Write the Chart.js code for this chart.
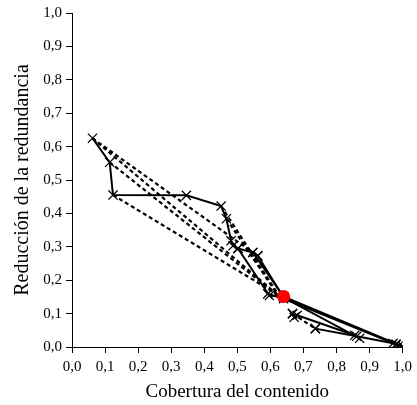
<!DOCTYPE html>
<html>
<head>
<meta charset="utf-8">
<script src="https://cdn.jsdelivr.net/npm/chart.js@4.4.1/dist/chart.umd.min.js"></script>
<style>
  html, body { margin: 0; padding: 0; background: #fff; }
  #wrap { width: 417px; height: 405px; }
</style>
</head>
<body>
<div id="wrap"><canvas id="c" width="417" height="405"></canvas></div>
<script>
// ---- data (x = Cobertura del contenido, y = Reducción de la redundancia) ----
const xTickValues = [0, 0.1, 0.2, 0.3, 0.4, 0.5, 0.6, 0.7, 0.8, 0.9, 1.0];
const yTickValues = [0, 0.1, 0.2, 0.3, 0.4, 0.5, 0.6, 0.7, 0.8, 0.9, 1.0];

const referencePoint = [[0.64, 0.151]];

const mainPath = [[0.062, 0.625], [0.114, 0.553], [0.124, 0.455], [0.346, 0.454],
                  [0.451, 0.422], [0.467, 0.384], [0.481, 0.318], [0.487, 0.303],
                  [0.502, 0.295], [0.547, 0.283], [0.562, 0.273]];
const pathToEnd1 = [[0.547, 0.283], [0.64, 0.151], [1.0, 0.002]];
const pathToEnd2 = [[0.562, 0.273], [0.64, 0.148], [0.87, 0.026]];
const pathToEnd3 = [[0.502, 0.295], [0.597, 0.154], [0.64, 0.15], [0.989, 0.005]];
const pathToEnd4 = [[0.592, 0.159], [0.64, 0.145], [0.98, 0.008]];
const pathLow1 = [[0.736, 0.055], [0.861, 0.032], [0.971, 0.011]];
const pathLow2 = [[0.681, 0.095], [0.855, 0.035]];
const dashedLow = [[0.667, 0.1], [0.736, 0.055]];

const dashedFromA1 = [[0.062, 0.625], [0.547, 0.283]];
const dashedFromA2 = [[0.062, 0.625], [0.62, 0.158]];
const dashedFromB = [[0.114, 0.553], [0.62, 0.156]];
const dashedFromC = [[0.124, 0.455], [0.62, 0.158]];
const dashedFromE = [[0.451, 0.422], [0.625, 0.155]];
const dashedFromF = [[0.467, 0.384], [0.625, 0.152]];

const isolatedPoints = [[0.672, 0.089], [0.667, 0.1], [1.0, 0.002], [0.98, 0.008]];

// ---- helpers ----
const toXY = arr => arr.map(p => ({ x: p[0], y: p[1] }));
const fmt = v => Number(v).toFixed(1).replace('.', ',');
const serif = 'Liberation Serif, Times New Roman, serif';

function solid(arr) {
  return { data: toXY(arr), showLine: true, borderColor: '#000', borderWidth: 2,
           pointStyle: 'crossRot', pointRadius: 6.5, pointBorderWidth: 1.3,
           pointBorderColor: '#000', pointBackgroundColor: '#000' };
}
function dashed(arr) {
  return { data: toXY(arr), showLine: true, borderColor: '#000', borderWidth: 2.2,
           borderDash: [4, 3], pointRadius: 0 };
}

const datasets = [
  { data: toXY(referencePoint), pointStyle: 'circle', pointRadius: 6.5,
    backgroundColor: '#ff0000', borderColor: '#ff0000', pointBorderWidth: 0, showLine: false },
  solid(mainPath), solid(pathToEnd1), solid(pathToEnd2), solid(pathToEnd3), solid(pathToEnd4),
  solid(pathLow1), solid(pathLow2),
  Object.assign(dashed(dashedLow), { pointStyle: 'crossRot', pointRadius: 6.5, pointBorderColor: '#000', pointBorderWidth: 1.3 }),
  dashed(dashedFromA1), dashed(dashedFromA2), dashed(dashedFromB), dashed(dashedFromC),
  dashed(dashedFromE), dashed(dashedFromF),
  { data: toXY(isolatedPoints), showLine: false, pointStyle: 'crossRot', pointRadius: 6.5,
    pointBorderWidth: 1.3, pointBorderColor: '#000' }
];

new Chart(document.getElementById('c'), {
  type: 'scatter',
  data: { datasets },
  options: {
    responsive: false,
    animation: false,
    layout: { padding: { left: 0, top: 11, right: 10, bottom: 0 } },
    plugins: { legend: { display: false }, tooltip: { enabled: false } },
    scales: {
      x: {
        type: 'linear', min: 0, max: 1,
        afterBuildTicks: s => { s.ticks = xTickValues.map(v => ({ value: v })); },
        afterFit: s => { s.height = 58; },
        ticks: { callback: fmt, color: '#000', padding: 5, maxRotation: 0,
                 font: { family: serif, size: 15 } },
        grid: { drawOnChartArea: false, drawTicks: true, tickLength: 6, color: '#000', lineWidth: 1 },
        border: { display: true, color: '#000', width: 1 },
        title: { display: true, text: 'Cobertura del contenido', color: '#000',
                 font: { family: serif, size: 19, lineHeight: 1.2 }, padding: { top: 0, bottom: 2 } }
      },
      y: {
        type: 'linear', min: 0, max: 1,
        afterBuildTicks: s => { s.ticks = yTickValues.map(v => ({ value: v })); },
        afterFit: s => { s.width = 72; },
        ticks: { callback: fmt, color: '#000', padding: 4,
                 font: { family: serif, size: 15 } },
        grid: { drawOnChartArea: false, drawTicks: true, tickLength: 6, color: '#000', lineWidth: 1 },
        border: { display: true, color: '#000', width: 1 },
        title: { display: true, text: 'Reducción de la redundancia', color: '#000',
                 font: { family: serif, size: 20, lineHeight: 1.2 }, padding: { top: 11, bottom: 0 } }
      }
    }
  }
});
</script>
</body>
</html>
